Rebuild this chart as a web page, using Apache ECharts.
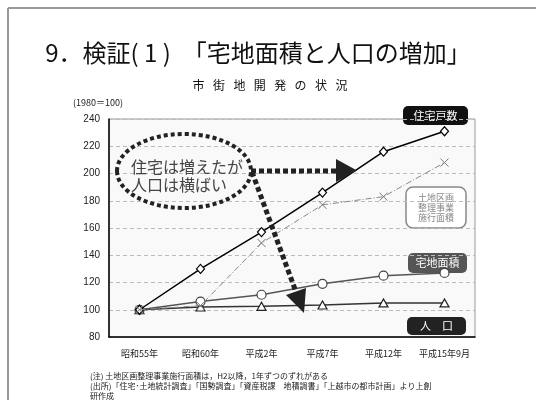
<!DOCTYPE html>
<html><head><meta charset="utf-8">
<script src="https://cdn.jsdelivr.net/npm/echarts@6/dist/echarts.min.js"></script>
<style>html,body{margin:0;padding:0;background:#fff;}#c{width:536px;height:400px;}</style>
</head><body><div id="c"></div>
<script>
var categories = ['昭和55年','昭和60年','平成2年','平成7年','平成12年','平成15年9月'];
var housingUnits = [100, 130, 157, 186, 216, 231];     // 住宅戸数
var readjustArea = [100, 103, 149, 177, 183, 208];     // 土地区画整理事業施行面積
var residentialArea = [100, 106, 111, 119, 125, 127];  // 宅地面積
var population = [100, 102, 102.5, 103.5, 105, 105];   // 人口
var yTicks = {min: 80, max: 240, interval: 20};

var JP = "'Noto Sans CJK JP', sans-serif";
var chart = echarts.init(document.getElementById('c'), null, {renderer: 'canvas'});

function box(x, y, w, h, r, fill, stroke, lines, color, fs, lh) {
  var children = [{type: 'rect', shape: {x: x, y: y, width: w, height: h, r: r},
    style: {fill: fill, stroke: stroke || null, lineWidth: stroke ? 1.5 : 0}}];
  children.push({type: 'text', style: {text: lines, x: x + w / 2, y: y + h / 2, align: 'center',
    verticalAlign: 'middle', fill: color, fontSize: fs, fontFamily: JP, lineHeight: lh || fs + 2}});
  return {type: 'group', z: 100, children: children};
}

var option = {
  backgroundColor: '#fff',
  animation: false,
  grid: {left: 109, right: 61, top: 119, bottom: 63, show: true, backgroundColor: '#f9f9f9', borderColor: '#999', borderWidth: 1},
  xAxis: {
    type: 'category', data: categories, boundaryGap: true,
    axisLine: {lineStyle: {color: '#000', width: 1.5}},
    axisTick: {inside: true, length: 4, lineStyle: {color: '#000'}},
    axisLabel: {fontSize: 9, color: '#222', fontFamily: JP, margin: 12, interval: 0, hideOverlap: false}
  },
  yAxis: {
    type: 'value', min: yTicks.min, max: yTicks.max, interval: yTicks.interval,
    axisLine: {show: true, lineStyle: {color: '#000', width: 1.5}},
    axisTick: {show: false},
    axisLabel: {fontSize: 10, color: '#222', margin: 9, fontFamily: 'Liberation Sans, Arial, sans-serif'},
    splitLine: {lineStyle: {color: '#bbb', type: [4, 3]}}
  },
  series: [
    {name: '住宅戸数', type: 'line', data: housingUnits, symbol: 'diamond', symbolSize: [8, 9],
      lineStyle: {color: '#000', width: 1.5}, itemStyle: {color: '#fff', borderColor: '#000', borderWidth: 1.2}, z: 5},
    {name: '宅地面積', type: 'line', data: residentialArea, symbol: 'circle', symbolSize: 9,
      lineStyle: {color: '#555', width: 1.5}, itemStyle: {color: '#fff', borderColor: '#444', borderWidth: 1.2}, z: 4},
    {name: '人口', type: 'line', data: population, symbol: 'triangle', symbolSize: [9, 8],
      lineStyle: {color: '#333', width: 1.5}, itemStyle: {color: '#fff', borderColor: '#222', borderWidth: 1.2}, z: 3},
    {name: '土地区画整理事業施行面積', type: 'line', data: readjustArea, symbol: 'path://M0,0L10,10M10,0L0,10', symbolSize: 8,
      lineStyle: {color: '#888', width: 1, type: [6, 2, 1, 2]}, itemStyle: {color: 'none', borderColor: '#777', borderWidth: 1}, z: 6}
  ],
  graphic: [
    {type: 'line', shape: {x1: 8, y1: 8, x2: 536, y2: 8}, style: {stroke: '#999', lineWidth: 2}},
    {type: 'line', shape: {x1: 8, y1: 8, x2: 8, y2: 400}, style: {stroke: '#999', lineWidth: 2}},
    {type: 'text', style: {text: '9．検証( 1 )　「宅地面積と人口の増加」', x: 258, y: 53, align: 'center', verticalAlign: 'middle',
      fill: '#111', fontSize: 24, fontFamily: JP}},
    {type: 'text', style: {text: '市\u2002\u2009街\u2002\u2009地\u2002\u2009開\u2002\u2009発\u2002\u2009の\u2002\u2009状\u2002\u2009況', x: 270, y: 85, align: 'center', verticalAlign: 'middle',
      fill: '#111', fontSize: 12, fontFamily: JP}},
    {type: 'text', style: {text: '(1980＝100)', x: 73, y: 103, align: 'left', verticalAlign: 'middle',
      fill: '#222', fontSize: 9, fontFamily: JP}},
    {type: 'ellipse', z: 90, shape: {cx: 184, cy: 171, rx: 67, ry: 37}, style: {fill: 'none', stroke: '#222', lineWidth: 4, lineDash: [4, 3]}},
    {type: 'text', z: 90, style: {text: '住宅は増えたが\n人口は横ばい', x: 131, y: 176, align: 'left', verticalAlign: 'middle',
      fill: '#444', fontSize: 16, fontFamily: JP, lineHeight: 18}},
    {type: 'line', z: 90, shape: {x1: 251, y1: 171, x2: 336, y2: 171}, style: {stroke: '#222', lineWidth: 5, lineDash: [5, 3]}},
    {type: 'polygon', z: 90, shape: {points: [[336, 159], [336, 182], [357, 170.5]]}, style: {fill: '#222'}},
    {type: 'line', z: 90, shape: {x1: 252, y1: 172, x2: 296, y2: 292}, style: {stroke: '#222', lineWidth: 5, lineDash: [5, 3]}},
    {type: 'polygon', z: 90, shape: {points: [[286, 295], [306, 288], [304, 313]]}, style: {fill: '#222'}},
    box(403, 106, 65, 19, 5, '#111', null, '住宅戸数', '#fff', 11),
    box(406, 187, 60, 41, 7, '#fff', '#888', '土地区画\n整理事業\n施行面積', '#888', 9, 10),
    box(408, 253, 59, 20, 5, '#555', null, '宅地面積', '#fff', 11),
    box(407, 317, 59, 18, 5, '#222', null, '人　口', '#fff', 11),
    {type: 'text', style: {text: '(注) 土地区画整理事業施行面積は，H2以降，1年ずつのずれがある\n(出所)「住宅･土地統計調査」「国勢調査」「資産税課　地積調書」「上越市の都市計画」より上創\n研作成',
      x: 90, y: 371, align: 'left', verticalAlign: 'top', fill: '#222', fontSize: 8, fontFamily: JP, lineHeight: 10}}
  ]
};
chart.setOption(option);
</script>
</body></html>
